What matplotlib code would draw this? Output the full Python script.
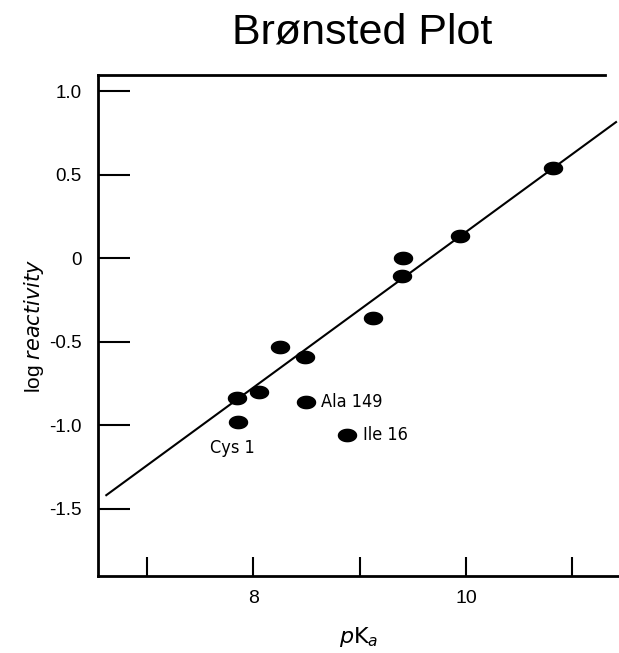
import numpy as np
import matplotlib
matplotlib.use("Agg")
import matplotlib.pyplot as plt
from matplotlib.path import Path

# pKa values and log reactivities of the amino groups
pka = [10.82, 9.94, 9.41, 9.40, 9.13, 8.25, 8.49, 8.05, 7.85, 7.86, 8.50, 8.88]
log_reactivity = [0.54, 0.13, 0.00, -0.11, -0.36, -0.53, -0.59, -0.80, -0.84, -0.98, -0.86, -1.06]

# labelled outliers
label_names = ["Cys 1", "Ala 149", "Ile 16"]
label_pka = [7.86, 8.50, 8.88]
label_log = [-0.98, -0.86, -1.06]

# fitted Brønsted line: log k = slope * pKa + intercept
fit_slope = 0.466
fit_intercept = -4.504
fit_range = [6.61, 11.42]

y_ticks = [1.0, 0.5, 0.0, -0.5, -1.0, -1.5]
y_tick_labels = ["1.0", "0.5", "0", "-0.5", "-1.0", "-1.5"]
x_ticks = [7, 8, 9, 10, 11]
x_tick_labels = ["", "8", "", "10", ""]

plt.rcParams["font.family"] = ["Liberation Sans", "DejaVu Sans"]

W, H = 619, 653
fig = plt.figure(figsize=(W / 100, H / 100), dpi=100)
ax = fig.add_axes([98 / W, (H - 576) / H, (W - 98) / W, (576 - 75) / H])

ax.set_xlim(6.54, 11.44)
ax.set_ylim(-1.904, 1.096)

# elliptical marker
t = np.linspace(0, 2 * np.pi, 60)
ellipse = Path(np.column_stack([np.cos(t), 0.68 * np.sin(t)]), closed=True)

xs = np.array(fit_range)
ax.plot(xs, fit_slope * xs + fit_intercept, color="black", lw=1.5, zorder=2,
        solid_capstyle="butt")
ax.plot(pka, log_reactivity, linestyle="none", marker=ellipse, markersize=13,
        color="black", zorder=3)

# annotations in a condensed face
lab_font = dict(family="DejaVu Sans", fontstretch="condensed", fontsize=13)
ax.text(label_pka[0] - 0.06, label_log[0] - 0.16, label_names[0],
        ha="center", va="center", **lab_font)
ax.text(label_pka[1] + 0.14, label_log[1], label_names[1],
        ha="left", va="center", **lab_font)
ax.text(label_pka[2] + 0.15, label_log[2], label_names[2],
        ha="left", va="center", **lab_font)

ax.set_yticks(y_ticks)
ax.set_yticklabels(y_tick_labels)
ax.set_xticks(x_ticks)
ax.set_xticklabels(x_tick_labels)
ax.tick_params(axis="y", direction="in", length=23, width=1.5, labelsize=13.5, pad=12)
ax.tick_params(axis="x", direction="in", length=14, width=1.5, labelsize=14, pad=10)

ax.spines["right"].set_visible(False)
for s in ("left", "top", "bottom"):
    ax.spines[s].set_linewidth(2)
ax.spines["top"].set_bounds(6.54, 11.31)

ax.set_xlabel(r"$\mathit{p}\mathrm{K}_{\mathit{a}}$", fontsize=16, labelpad=13)
ax.set_ylabel("log $\\mathit{reactivity}$", fontsize=15, labelpad=2)

fig.text(362 / W, 1 - 33 / H, "Brønsted Plot", ha="center", va="center", fontsize=31)

fig.savefig("out.png", dpi=100)
